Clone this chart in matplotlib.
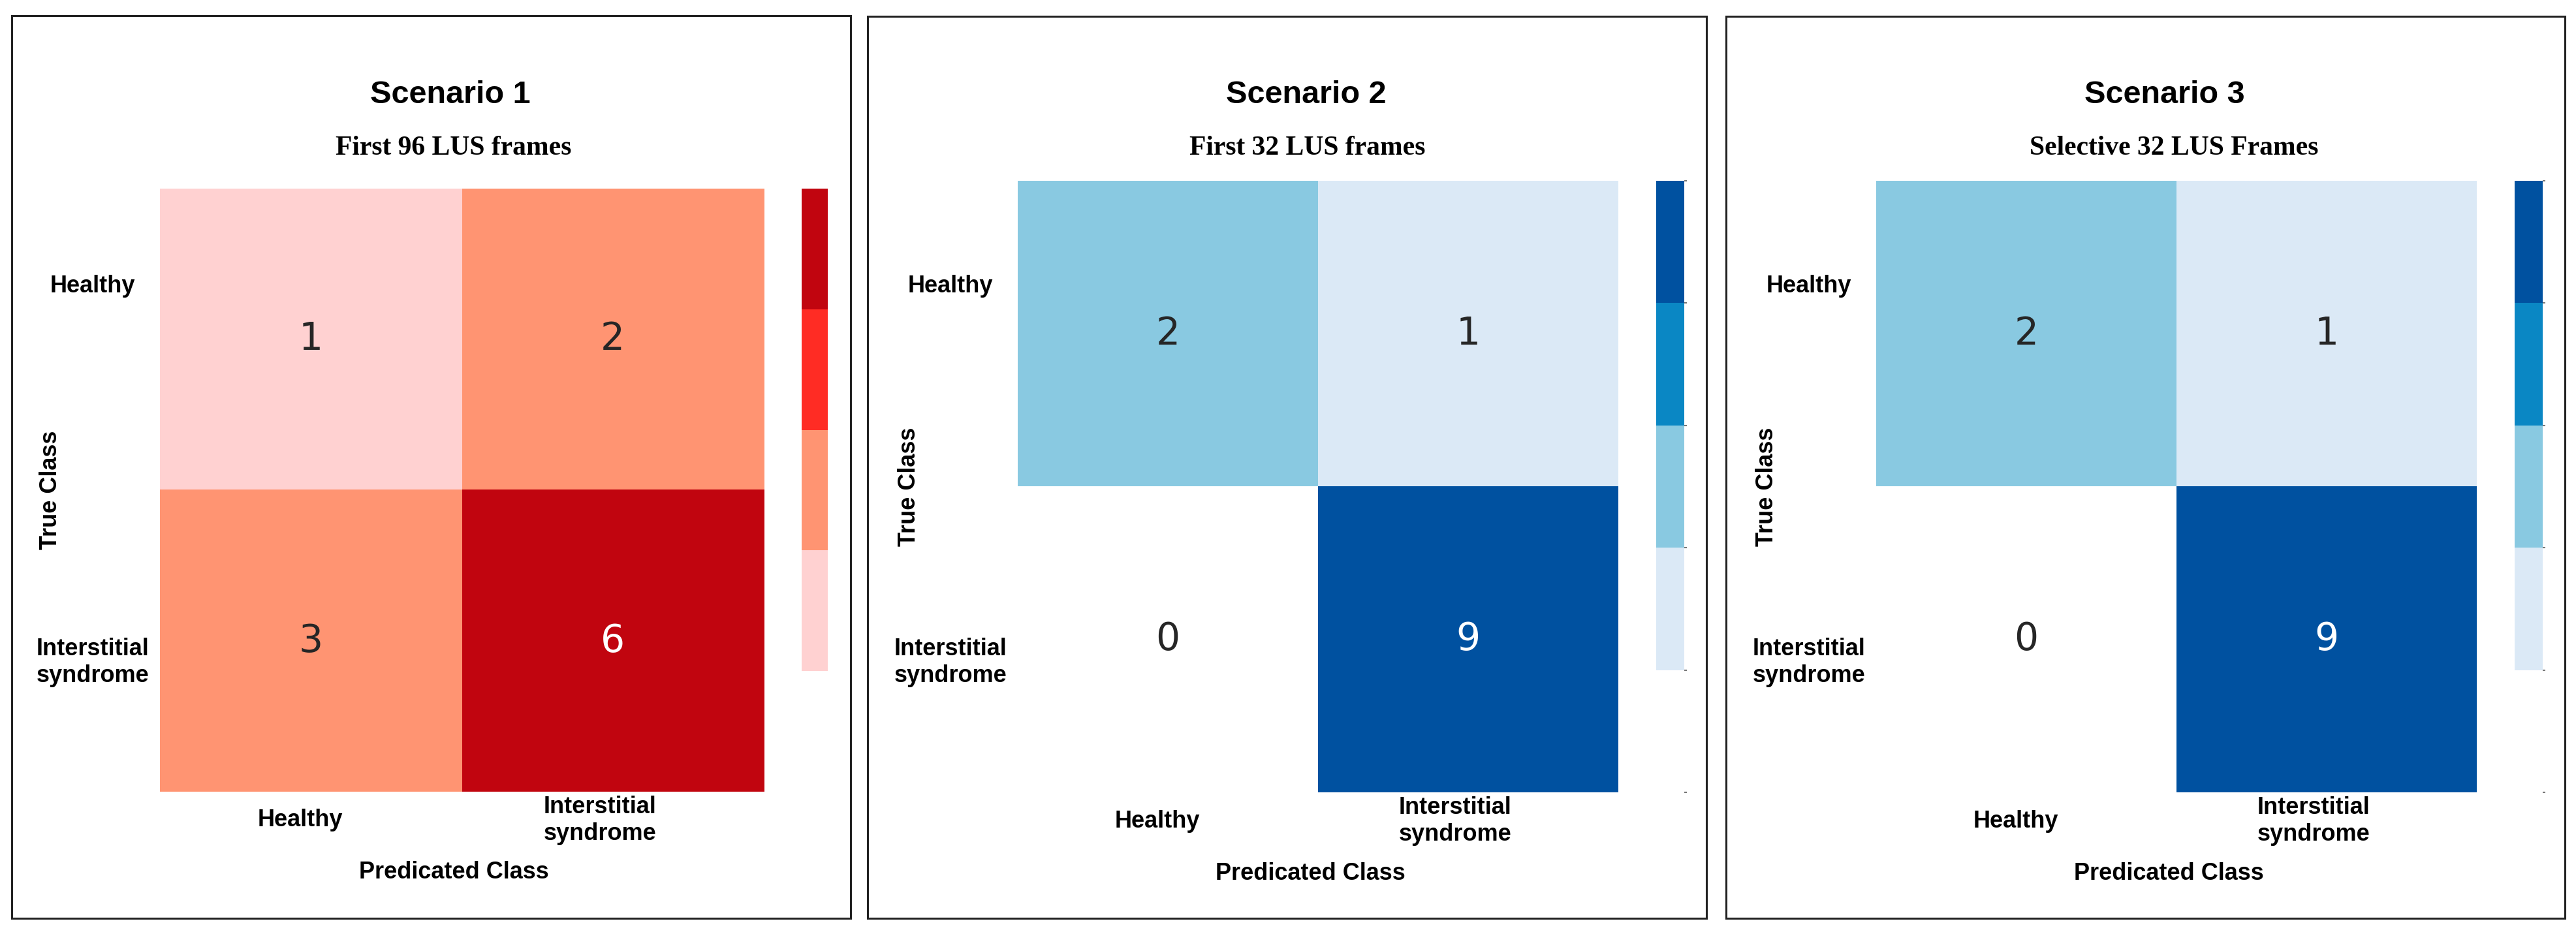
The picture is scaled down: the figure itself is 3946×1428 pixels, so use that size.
import numpy as np
import matplotlib
matplotlib.use('Agg')
import matplotlib.pyplot as plt
from matplotlib.colors import ListedColormap, BoundaryNorm
from matplotlib.patches import Rectangle

# Data
scenario_titles = ['Scenario 1', 'Scenario 2', 'Scenario 3']
scenario_subtitles = ['First 96 LUS frames', 'First 32 LUS frames', 'Selective 32 LUS Frames']
class_labels = ['Healthy', 'Interstitial\nsyndrome']
cm_scenario1 = [[1, 2], [3, 6]]
cm_scenario2 = [[2, 1], [0, 9]]
cm_scenario3 = [[2, 1], [0, 9]]
level_bounds = [0, 1, 2, 4, 6, 10]

reds = ['#ffffff', '#ffd1d1', '#ff9472', '#ff2c24', '#c1050f']
blues = ['#ffffff', '#dbe9f6', '#89c9e1', '#0a87c4', '#0051a0']

W, H = 3946, 1428
fig = plt.figure(figsize=(W / 100, H / 100), dpi=100)
fig.patch.set_facecolor('white')

sans = 'Liberation Sans'
serif = 'Liberation Serif'


def rect(l, t, r, b):
    # pixel box (from top-left) -> figure fraction rect
    return [l / W, 1 - b / H, (r - l) / W, (b - t) / H]


# layout in pixels: frame, heatmap, colorbar
frames = [(18, 24, 1303, 1407), (1329, 25, 2614, 1407), (2644, 25, 3929, 1407)]
heat_boxes = [(245, 289, 1170, 1213), (1559, 277, 2479, 1214), (2874, 277, 3794, 1214)]
cbar_boxes = [(1228, 289, 1268, 1213), (2537, 277, 2580, 1214), (3852, 277, 3895, 1214)]
subtitle_dx = [-13, -16, -4]

matrices = [cm_scenario1, cm_scenario2, cm_scenario3]
palettes = [reds, blues, blues]

for i in range(3):
    fl, ft, fr, fb = frames[i]
    fig.patches.append(Rectangle((fl / W, 1 - fb / H), (fr - fl) / W, (fb - ft) / H,
                                 transform=fig.transFigure, fill=False,
                                 edgecolor='#222222', linewidth=2.2))

    hl, ht, hr, hb = heat_boxes[i]
    ax = fig.add_axes(rect(hl, ht, hr, hb))
    data = np.array(matrices[i])
    cmap = ListedColormap(palettes[i])
    norm = BoundaryNorm(level_bounds, ncolors=cmap.N)
    im = ax.imshow(data, cmap=cmap, norm=norm, extent=(0, 2, 2, 0), aspect='auto',
                   interpolation='nearest')

    for r in range(2):
        for c in range(2):
            v = data[r, c]
            lvl = np.searchsorted(level_bounds, v, side='right') - 1
            col = 'white' if lvl >= 4 else '#262626'
            ax.text(c + 0.5, r + 0.5, str(v), ha='center', va='center',
                    fontsize=42, color=col, family='DejaVu Sans')

    for s in ax.spines.values():
        s.set_visible(False)

    hw = hr - hl
    hh = hb - ht
    ax.set_xlim(0, 2)
    ax.set_ylim(2, 0)
    ax.set_xticks([0.5 - 16 / (hw / 2), 1.5 - 20 / (hw / 2)])
    ax.set_xticklabels(class_labels, fontsize=26, fontweight='bold', family=sans,
                       va='center', ha='center', multialignment='center')
    ax.set_yticks([(439 - ht) / (hh / 2), (1015 - ht) / (hh / 2)])
    ax.set_yticklabels(class_labels, fontsize=26, fontweight='bold', family=sans,
                       va='center', ha='center', multialignment='center')
    ax.tick_params(axis='x', length=0, pad=44 * 0.72)
    ax.tick_params(axis='y', length=0, pad=103 * 0.72)

    ax.set_xlabel('Predicated Class', fontsize=26, fontweight='bold', family=sans, va='center')
    ax.xaxis.set_label_coords(0.5 - 12 / hw, -124 / hh)
    ax.set_ylabel('True Class', fontsize=26, fontweight='bold', family=sans, va='center')
    ax.yaxis.set_label_coords(-167 / hw, 0.5)

    ax.text(0.5 - 18 / hw, 1 + (ht - 145) / hh, scenario_titles[i], transform=ax.transAxes,
            ha='center', va='center', fontsize=35, fontweight='bold', family=sans)
    ax.text(0.5 + subtitle_dx[i] / hw, 1 + (ht - 227) / hh, scenario_subtitles[i],
            transform=ax.transAxes, ha='center', va='center', fontsize=30,
            fontweight='bold', family=serif)

    cl, ct, cr, cb_ = cbar_boxes[i]
    cax = fig.add_axes(rect(cl, ct, cr, cb_))
    cb = fig.colorbar(im, cax=cax, spacing='uniform')
    cb.outline.set_visible(False)
    cb.set_ticks(level_bounds)
    cb.set_ticklabels([''] * len(level_bounds))
    if i == 0:
        cax.tick_params(length=0)
    else:
        cax.tick_params(length=3, width=1.5, color='#777777')

fig.savefig('out.png', dpi=100, facecolor='white')
